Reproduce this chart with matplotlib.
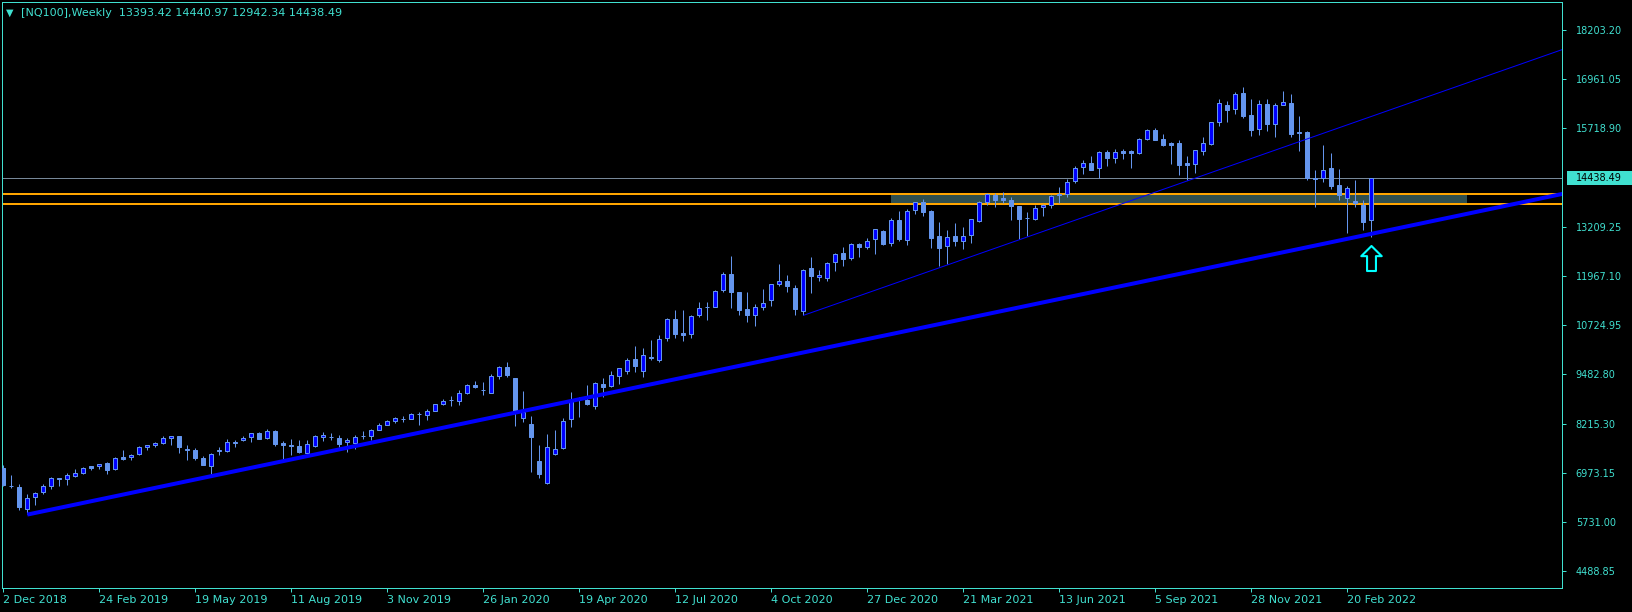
import numpy as np
import matplotlib
matplotlib.use("Agg")
import matplotlib.pyplot as plt
from matplotlib.patches import Rectangle
from matplotlib.path import Path
from matplotlib.transforms import blended_transform_factory

# weekly NQ100 bars, bar 0 = week of 2 Dec 2018
opens = [7100, 6645, 6618, 6053, 6356, 6474, 6627, 6838, 6813, 6880,
         6965, 7142, 7134, 7227, 7057, 7370, 7361, 7438, 7624, 7666,
         7717, 7843, 7902, 7565, 7556, 7353, 7134, 7525, 7522, 7717,
         7793, 7869, 7979, 7843, 8038, 7734, 7683, 7657, 7463, 7641,
         7877, 7872, 7860, 7742, 7717, 7902, 7894, 8063, 8190, 8275,
         8328, 8325, 8462, 8427, 8528, 8714, 8808, 8781, 8993, 9204,
         9069, 8984, 9415, 9660, 9381, 8350, 8215, 7277, 6703, 7438,
         7590, 8325, 8870, 8824, 8655, 9221, 9162, 9415, 9550, 9855,
         9550, 9914, 9829, 10387, 10880, 10520, 10480, 10961, 11185, 11173,
         11595, 12009, 11562, 11130, 10961, 11173, 11350, 11756, 11832, 11663,
         11063, 12162, 11925, 11900, 12305, 12542, 12407, 12770, 12685, 12897,
         13099, 12795, 13378, 12871, 13632, 13826, 13606, 12973, 12719, 12973,
         12846, 12998, 13345, 13834, 14020, 13944, 13885, 13741, 13429, 13395,
         13708, 13775, 14020, 14037, 14367, 14721, 14823, 14696, 15102, 14966,
         15145, 15145, 15094, 15431, 15660, 15440, 15347, 15330, 14823, 14815,
         15144, 15322, 15880, 16302, 16209, 16597, 16040, 15702, 16319, 15812,
         16293, 16353, 15617, 15617, 14451, 14460, 14696, 14265, 13936, 13860,
         13767, 13393.42]
highs = [7176, 6922, 6694, 6433, 6483, 6677, 6872, 6838, 6973, 7066,
         7125, 7142, 7193, 7243, 7370, 7556, 7455, 7640, 7683, 7759,
         7911, 7902, 7902, 7683, 7590, 7395, 7472, 7632, 7826, 7809,
         7902, 7979, 8004, 8080, 8063, 7776, 7835, 7809, 7809, 7936,
         8004, 7979, 7928, 7852, 7928, 8038, 8089, 8224, 8317, 8376,
         8410, 8494, 8511, 8579, 8722, 8849, 8925, 9077, 9213, 9305,
         9280, 9474, 9686, 9787, 9381, 9052, 8418, 7683, 7962, 8063,
         8359, 9018, 8900, 9204, 9272, 9373, 9559, 9626, 9888, 10184,
         10142, 10345, 10463, 10900, 11105, 11105, 10960, 11308, 11308, 11612,
         12069, 12474, 11562, 11562, 11249, 11638, 11756, 12271, 11984, 11731,
         12145, 12440, 12119, 12314, 12550, 12694, 12787, 12787, 12922, 13142,
         13117, 13429, 13606, 13657, 13826, 13911, 13640, 13328, 13125, 13302,
         13201, 13395, 13860, 14063, 14063, 14088, 13953, 13741, 13589, 13750,
         13792, 14012, 14223, 14426, 14747, 14907, 14999, 15136, 15161, 15187,
         15187, 15161, 15457, 15693, 15710, 15567, 15364, 15406, 15009, 15153,
         15482, 15863, 16446, 16395, 16631, 16750, 16454, 16420, 16446, 16344,
         16657, 16581, 16023, 15643, 14654, 15288, 15085, 14679, 14240, 14400,
         13893, 14440.97]
lows = [6627, 6576, 6020, 5934, 6162, 6432, 6551, 6627, 6652, 6855,
        6939, 7032, 7074, 6948, 7032, 7303, 7286, 7430, 7556, 7615,
        7700, 7683, 7463, 7303, 7286, 7159, 6948, 7430, 7505, 7615,
        7767, 7742, 7835, 7835, 7658, 7303, 7412, 7472, 7446, 7624,
        7767, 7793, 7632, 7489, 7582, 7826, 7810, 8046, 8173, 8224,
        8249, 8325, 8190, 8317, 8528, 8697, 8672, 8680, 8976, 9111,
        8934, 8984, 9348, 9407, 8148, 8249, 6982, 6846, 6677, 7413,
        7573, 8122, 8376, 8680, 8595, 8883, 9145, 9212, 9466, 9517,
        9390, 9838, 9770, 10320, 10390, 10300, 10400, 10919, 10852, 11173,
        11545, 11139, 10961, 10800, 10700, 11100, 11206, 11697, 11545, 10961,
        10961, 11519, 11823, 11823, 12094, 12221, 12373, 12449, 12652, 12508,
        12753, 12728, 12838, 12736, 13530, 13471, 12660, 12204, 12271, 12719,
        12635, 12787, 13319, 13758, 13700, 13809, 13387, 12905, 12981, 13370,
        13471, 13699, 13809, 13953, 14333, 14544, 14662, 14443, 14764, 14831,
        14941, 14713, 15068, 15406, 15423, 15262, 14814, 14536, 14400, 14570,
        15034, 15296, 15778, 15880, 16082, 15981, 15524, 15550, 15651, 15499,
        16293, 15499, 15144, 14401, 13724, 14358, 14172, 13894, 13040, 13700,
        13117, 12942.34]
closes = [6652, 6640, 6094, 6331, 6458, 6644, 6846, 6813, 6922, 6965,
          7100, 7100, 7193, 7049, 7353, 7328, 7421, 7624, 7666, 7725,
          7852, 7902, 7615, 7548, 7336, 7159, 7446, 7535, 7750, 7759,
          7852, 7970, 7835, 8029, 7708, 7683, 7640, 7505, 7708, 7911,
          7936, 7866, 7708, 7801, 7877, 7894, 8055, 8190, 8283, 8359,
          8322, 8469, 8458, 8545, 8722, 8798, 8804, 8984, 9196, 9136,
          9061, 9424, 9652, 9457, 8545, 8511, 7869, 6948, 7624, 7573,
          8283, 8824, 8860, 8722, 9246, 9136, 9449, 9626, 9829, 9669,
          9956, 9872, 10362, 10870, 10500, 10460, 10953, 11147, 11178, 11578,
          12009, 11545, 11088, 10961, 11181, 11274, 11756, 11832, 11697, 11114,
          12119, 11950, 11984, 12288, 12516, 12390, 12770, 12702, 12838, 13142,
          12770, 13378, 12888, 13606, 13826, 13573, 12913, 12660, 12947, 12838,
          12973, 13395, 13834, 14037, 13895, 13877, 13725, 13395, 13420, 13691,
          13758, 13986, 14029, 14341, 14696, 14823, 14662, 15102, 14966, 15102,
          15094, 15094, 15431, 15660, 15423, 15296, 15296, 14789, 14781, 15153,
          15330, 15863, 16344, 16184, 16572, 16023, 15668, 16319, 15829, 16293,
          16369, 15575, 15584, 14443, 14417, 14654, 14257, 14004, 14189, 13809,
          13319, 14438.49]

date_ticks = [0, 12, 24, 36, 48, 60, 72, 84, 96, 108, 120, 132, 144, 156, 168]
date_labels = ["2 Dec 2018", "24 Feb 2019", "19 May 2019", "11 Aug 2019", "3 Nov 2019",
               "26 Jan 2020", "19 Apr 2020", "12 Jul 2020", "4 Oct 2020", "27 Dec 2020",
               "21 Mar 2021", "13 Jun 2021", "5 Sep 2021", "28 Nov 2021", "20 Feb 2022"]
price_ticks = [18203.20, 16961.05, 15718.90, 13209.25, 11967.10, 10724.95,
               9482.80, 8215.30, 6973.15, 5731.00, 4488.85]

# drawn objects
trend_main = [(3, 5908), (171, 13031)]
trend_thin = [(100, 10961), (171, 16009)]
zone_levels = [13800, 14030]
zone_bars = [111, 183]
arrow_bar, arrow_price = 171, 12425

turq = "#40E0D0"
bull_fill = "#0000FF"
candle_line = "#6495ED"
px = 0.72  # one pixel in points at dpi 100

fig = plt.figure(figsize=(16.33, 6.12), dpi=100, facecolor="black")
ax = fig.add_axes([2.5 / 1633, 24 / 612, 1560 / 1633, 586 / 612])
ax.set_facecolor("black")
x_lo, x_hi = -0.1, 194.9
ax.set_xlim(x_lo, x_hi)
ax.set_ylim(4045, 18913)

# support zone
ax.add_patch(Rectangle((zone_bars[0], zone_levels[0]), zone_bars[1] - zone_bars[0],
                       zone_levels[1] - zone_levels[0], facecolor="#2F4F4F",
                       edgecolor="none", zorder=1))
for lvl in zone_levels:
    ax.axhline(lvl, color="#FFA500", lw=2 * px, zorder=2)
ax.axhline(closes[-1], color="#778899", lw=px, zorder=2)

# candles
for i in range(len(opens)):
    o, h, l, c = opens[i], highs[i], lows[i], closes[i]
    ax.vlines(i, l, h, color=candle_line, lw=px, zorder=3)
    face = bull_fill if c > o else candle_line
    ax.add_patch(Rectangle((i - 0.25, min(o, c)), 0.5, abs(c - o), facecolor=face,
                           edgecolor=candle_line, lw=px, zorder=4))

# trend lines, extended to the right edge
def ray(pts, lw):
    (x0, y0), (x1, y1) = pts
    k = (y1 - y0) / (x1 - x0)
    ax.plot([x0, x_hi], [y0, y0 + k * (x_hi - x0)], color="#0000FF", lw=lw,
            solid_capstyle="butt", zorder=5)

ray(trend_main, 4 * px)
ray(trend_thin, px)

# up arrow
arrow = Path([(0, 13.2), (10.8, 2.5), (4.7, 2.5), (4.7, -13.2), (-4.7, -13.2),
              (-4.7, 2.5), (-10.8, 2.5), (0, 13.2)], closed=True)
ax.plot([arrow_bar], [arrow_price], marker=arrow, ms=18, mfc="black", mec="#00FFFF",
        mew=1.5 * px * 1.4, zorder=6)

# axes styling
for sp in ax.spines.values():
    sp.set_color(turq)
    sp.set_linewidth(px)
ax.yaxis.tick_right()
ax.set_yticks(price_ticks)
ax.set_yticklabels([f"{v:.2f}" for v in price_ticks])
ax.tick_params(axis="y", colors=turq, length=3, width=px, pad=6.5, labelsize=7)
ax.set_xticks(date_ticks)
ax.set_xticklabels(date_labels)
ax.tick_params(axis="x", colors=turq, length=3, width=px, pad=2, labelsize=8)
for lab in ax.get_xticklabels():
    lab.set_ha("left")

# current price tag
tr = blended_transform_factory(ax.transAxes, ax.transData)
ax.add_patch(Rectangle((1.003, closes[-1] - 180), 0.05, 360, transform=tr,
                       facecolor=turq, edgecolor="none", clip_on=False, zorder=7))
ax.text(1.0087, closes[-1], f"{closes[-1]:.2f}", transform=tr, color="black",
        fontsize=7, va="center", ha="left", zorder=8)

# header
fig.text(6 / 1633, 1 - 12.5 / 612, "\u25BC", color=turq, fontsize=7, va="center")
fig.text(20.7 / 1633, 1 - 13.3 / 612,
         f"[NQ100],Weekly  {opens[-1]:.2f} {highs[-1]:.2f} {lows[-1]:.2f} {closes[-1]:.2f}",
         color=turq, fontsize=8, va="center")

fig.savefig("out.png", dpi=100, facecolor="black")
